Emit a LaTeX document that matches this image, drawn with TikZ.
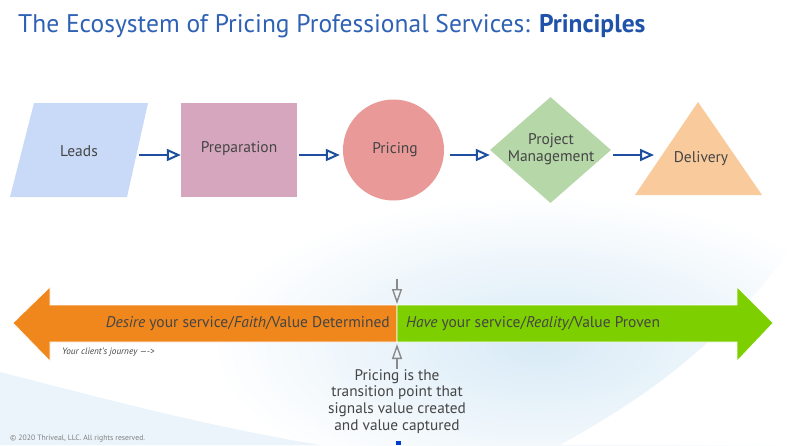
\documentclass[tikz,border=0pt]{standalone}
\usepackage{fontspec}
\setmainfont{PT Sans}
\usetikzlibrary{arrows.meta,shapes.geometric}
\definecolor{titleblue}{HTML}{2F62B4}
\definecolor{titledark}{HTML}{1F52A8}
\definecolor{flowblue}{HTML}{1D4F9E}
\definecolor{labelgray}{HTML}{454545}
\definecolor{leadsblue}{HTML}{C9DAF8}
\definecolor{preppink}{HTML}{D5A6BD}
\definecolor{pricered}{HTML}{EA9999}
\definecolor{pmgreen}{HTML}{B6D7A8}
\definecolor{delorange}{HTML}{F9CB9C}
\definecolor{bigorange}{HTML}{F0871C}
\definecolor{biggreen}{HTML}{7DCF00}
\definecolor{haze}{HTML}{D8EAF6}
\definecolor{markgray}{HTML}{8A8A8A}
\begin{document}
\begin{tikzpicture}[x=1pt,y=-1pt,
  shapelabel/.style={inner sep=0pt, font=\fontsize{15.5}{18}\selectfont, text=labelgray, align=center},
  flow/.style={draw=flowblue, line width=2.4pt, shorten <=2pt,
    -{Triangle[open, length=14pt, width=12pt, line width=2pt]}},
  marker/.style={draw=markgray, line width=1.6pt,
    -{Triangle[open, length=15pt, width=10pt, line width=1.4pt]}},
  bandtext/.style={inner sep=0pt, font=\fontsize{15.5}{18}\selectfont, text=labelgray},
]
\useasboundingbox (0,0) rectangle (800,445);
% background
\fill[white] (0,0) rectangle (800,445);
\shade[inner color=haze, outer color=white] (540,345) ellipse [x radius=330, y radius=150];
\fill[haze!55!white] (0,372) .. controls (90,395) and (200,425) .. (320,445) -- (0,445) -- cycle;
\fill[white] (560,445) .. controls (680,380) and (750,310) .. (800,235) -- (800,445) -- cycle;
% title
\node[anchor=base west, inner sep=0pt, font=\fontsize{25.5}{28}\selectfont, text=titleblue]
  (title) at (18,32) {The Ecosystem of Pricing Professional Services: \textcolor{titledark}{\bfseries Principles}};
% flow shapes
\fill[leadsblue] (34,103) -- (148,103) -- (127,197) -- (10,197) -- cycle;
\node[shapelabel] (leads) at (79,151) {Leads};
\coordinate (leadsout) at (137,155);
\node[rectangle, fill=preppink, minimum width=116pt, minimum height=94pt, inner sep=0pt] (prep) at (239,150) {};
\node[shapelabel] (preplabel) at (239,149) {Preparation};
\node[circle, fill=pricered, minimum size=101pt, inner sep=0pt] (pricing) at (393.5,150) {};
\node[shapelabel] (pricelabel) at (395,150) {Pricing};
\node[diamond, fill=pmgreen, minimum width=121pt, minimum height=106pt, inner sep=0pt] (pm) at (550.5,150) {};
\node[shapelabel, font=\fontsize{15.5}{17}\selectfont] (pmlabel) at (551,149) {Project\\Management};
\fill[delorange] (698,102) -- (762,195) -- (635,195) -- cycle;
\node[shapelabel] (delivery) at (701,159) {Delivery};
\coordinate (delin) at (654,155);
% connectors
\draw[flow] (leadsout) -- (prep.west |- leadsout);
\draw[flow] (prep.east |- leadsout) -- ([xshift=-3pt]pricing.west |- leadsout);
\draw[flow] ([xshift=4pt]pricing.east |- leadsout) -- (pm.west |- leadsout);
\draw[flow] (pm.east |- leadsout) -- (delin);
% big band arrows
\filldraw[fill=bigorange, draw=white, line width=0.6pt]
  (13,323) -- (50,287) -- (50,305) -- (397,305) -- (397,342) -- (50,342) -- (50,361) -- cycle;
\filldraw[fill=biggreen, draw=white, line width=0.6pt]
  (397,305) -- (737,305) -- (737,287) -- (773,323) -- (737,361) -- (737,342) -- (397,342) -- cycle;
\node[bandtext, anchor=east] (desire) at (390,324) {\itshape Desire\upshape{} your service/\itshape Faith\upshape/Value Determined};
\node[bandtext, anchor=west] (have) at (406,324) {\itshape Have\upshape{} your service/\itshape Reality\upshape/Value Proven};
\node[anchor=west, inner sep=0pt, font=\itshape\fontsize{9.2}{10}\selectfont, text=labelgray] (journey) at (62,352) {Your client’s journey —->};
% transition markers
\coordinate (downstart) at (397,279);
\coordinate (downend) at (397,304);
\coordinate (upstart) at (397,369);
\coordinate (upend) at (397,344);
\draw[marker] (downstart) -- (downend);
\draw[marker] (upstart) -- (upend);
\node[inner sep=0pt, align=center, font=\fontsize{15.3}{16.7}\selectfont, text=labelgray, anchor=north] (note) at (397,369)
  {Pricing is the\\transition point that\\signals value created\\and value captured};
\fill[blue!70!cyan!80!black] (396,441) rectangle (401,445);
\node[anchor=base west, inner sep=0pt, font=\fontsize{7.7}{9}\selectfont, text=gray] (copy) at (10,440) {© 2020 Thriveal, LLC. All rights reserved.};
\end{tikzpicture}
\end{document}
